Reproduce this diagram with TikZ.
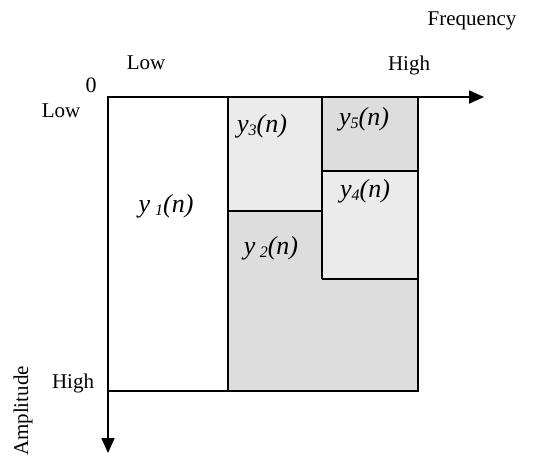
\documentclass[tikz,border=0pt]{standalone}
\usepackage{fontspec}
\setmainfont{Liberation Serif}
\usetikzlibrary{arrows.meta}
\definecolor{lightg}{HTML}{EBEBEB}
\definecolor{darkg}{HTML}{DDDDDD}
\newcommand{\mysubdig}[1]{\raisebox{-0.3ex}{\fontsize{16}{18}\selectfont #1}}
\begin{document}
\begin{tikzpicture}[x=1pt,y=-1pt,
  region/.style={draw=black,line width=1.8pt},
  axis/.style={line width=1.8pt,-{Triangle[length=15pt,width=13pt]}},
  lbl/.style={font=\fontsize{21}{24}\selectfont,inner sep=0pt,anchor=base},
  sig/.style={font=\fontsize{26}{30}\selectfont\itshape,inner sep=0pt}]
\useasboundingbox (0,0) rectangle (545,464);
% regions
\fill[white] (108,97) rectangle (228,391);
\fill[darkg] (228,211) -- (322,211) -- (322,279) -- (418,279) -- (418,391) -- (228,391) -- cycle;
\fill[lightg] (228,97) rectangle (322,211);
\fill[darkg] (322,97) rectangle (418,171);
\fill[lightg] (322,171) rectangle (418,279);
% outlines
\draw[region] (108,97) rectangle (418,391);
\draw[region] (228,97) -- (228,391);
\draw[region] (228,211) -- (322,211);
\draw[region] (322,97) -- (322,279);
\draw[region] (322,171) -- (418,171);
\draw[region] (322,279) -- (418,279);
% axes
\coordinate (o) at (108,97);
\coordinate (fx) at (484,97);
\coordinate (ay) at (108,453);
\draw[axis] (o) -- (fx);
\draw[axis] (o) -- (ay);
% labels
\node[lbl] (freq) at (472,25) {Frequency};
\node[lbl] (lowf) at (146,69) {Low};
\node[lbl] (highf) at (409,70) {High};
\node[lbl,font=\fontsize{22}{24}\selectfont] (zero) at (91,92) {0};
\node[lbl] (lowa) at (61,117) {Low};
\node[lbl] (higha) at (73,388) {High};
\node[lbl,anchor=center,rotate=90] (amp) at (23,411) {Amplitude};
% signals
\node[sig] (s1) at (166,206) {y\hspace{5pt}\mysubdig{1}(n)};
\node[sig] (s2) at (271,248) {y\,\mysubdig{2}(n)};
\node[sig] (s3) at (262,126) {y\mysubdig{3}(n)};
\node[sig] (s4) at (365,191) {y\mysubdig{4}(n)};
\node[sig] (s5) at (364,119) {y\mysubdig{5}(n)};
\end{tikzpicture}
\end{document}
